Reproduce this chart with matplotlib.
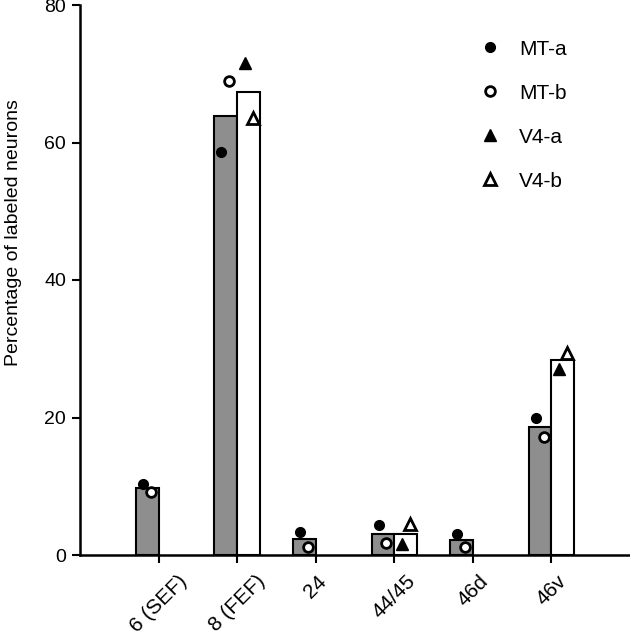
import numpy as np
import matplotlib.pyplot as plt
from matplotlib.lines import Line2D

plt.rcParams['font.family'] = ['Liberation Sans', 'DejaVu Sans']

areas = ['6 (SEF)', '8 (FEF)', '24', '44/45', '46d', '46v']
mt_mean = [9.8, 63.9, 2.4, 3.0, 2.2, 18.6]
v4_mean = [np.nan, 67.4, np.nan, 3.0, np.nan, 28.4]
mt_a = [10.3, 58.6, 3.4, 4.3, 3.0, 19.9]
mt_b = [9.2, 69.0, 1.2, 1.7, 1.1, 17.1]
v4_a = [np.nan, 71.6, np.nan, 1.6, np.nan, 27.1]
v4_b = [np.nan, 63.5, np.nan, 4.5, np.nan, 29.4]

x = np.arange(len(areas))
w = 0.29

fig = plt.figure(figsize=(6.3, 6.4), dpi=100)
ax = fig.add_axes([80 / 630, 85 / 640, 550 / 630, 550 / 640])

ax.bar(x - w / 2, mt_mean, width=w, color='#8e8e8e', edgecolor='black', linewidth=1.5)
ax.bar(x + w / 2, v4_mean, width=w, color='white', edgecolor='black', linewidth=1.5)

ms = 7
ax.plot(x - 0.2, mt_a, 'o', color='black', markersize=ms, linestyle='none')
ax.plot(x - 0.1, mt_b, 'o', markerfacecolor='white', markeredgecolor='black',
        markeredgewidth=2, markersize=ms, linestyle='none')
ax.plot(x + 0.1, v4_a, '^', color='black', markersize=ms + 1, linestyle='none')
ax.plot(x + 0.2, v4_b, '^', markerfacecolor='white', markeredgecolor='black',
        markeredgewidth=2, markersize=ms + 1, linestyle='none')

ax.set_xlim(-1, 6)
ax.set_ylim(0, 80)
ax.set_yticks([0, 20, 40, 60, 80])
ax.set_xticks(x)
ax.set_xticklabels(areas, rotation=45, ha='center', va='top', fontsize=15)
ax.tick_params(axis='y', labelsize=14, length=6, width=1.5, pad=4)
ax.tick_params(axis='x', length=6, width=1.5, pad=6)
for s in ['top', 'right']:
    ax.spines[s].set_visible(False)
for s in ['left', 'bottom']:
    ax.spines[s].set_linewidth(1.8)
ax.set_ylabel('Percentage of labeled neurons', fontsize=14)
ax.yaxis.set_label_coords(-0.105, 0.587)

handles = [
    Line2D([], [], marker='o', color='black', linestyle='none', markersize=ms),
    Line2D([], [], marker='o', markerfacecolor='white', markeredgecolor='black',
           markeredgewidth=2, linestyle='none', markersize=ms),
    Line2D([], [], marker='^', color='black', linestyle='none', markersize=ms + 1),
    Line2D([], [], marker='^', markerfacecolor='white', markeredgecolor='black',
           markeredgewidth=2, linestyle='none', markersize=ms + 1),
]
ax.legend(handles, ['MT-a', 'MT-b', 'V4-a', 'V4-b'], loc='upper left',
          bbox_to_anchor=(0.673, 0.971), frameon=False, fontsize=15,
          labelspacing=1.2, handletextpad=0.4)

fig.savefig('out.png', dpi=100)
